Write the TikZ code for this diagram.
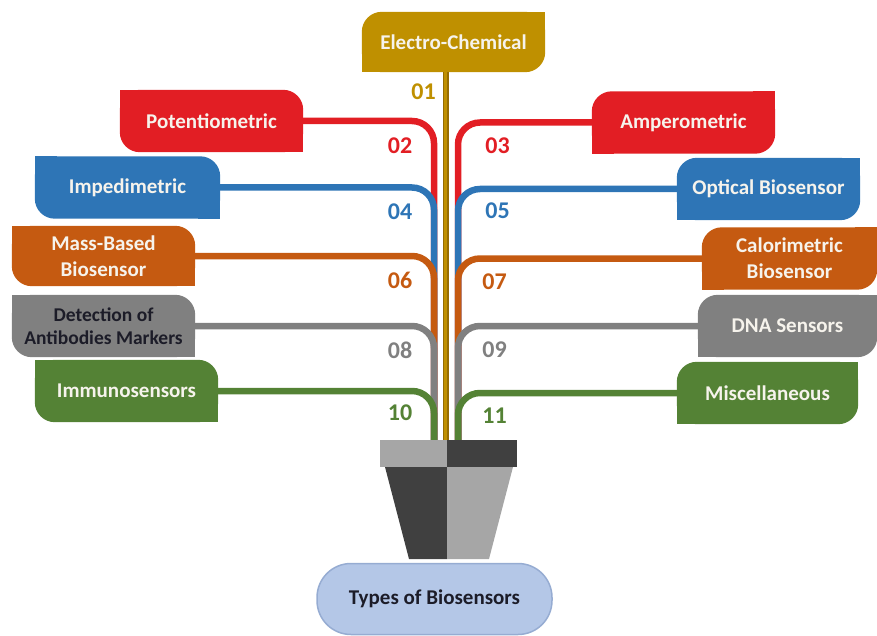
\documentclass[tikz,border=0pt]{standalone}
\usepackage{fontspec}
\setmainfont{Carlito}
\usetikzlibrary{backgrounds}

\definecolor{cRed}{RGB}{226,30,36}
\definecolor{cBlue}{RGB}{46,117,182}
\definecolor{cOrange}{RGB}{197,90,17}
\definecolor{cGray}{RGB}{128,128,128}
\definecolor{cGreen}{RGB}{84,130,53}
\definecolor{cGold}{RGB}{191,144,0}
\definecolor{cGoldDark}{RGB}{150,108,0}
\definecolor{potLight}{RGB}{166,166,166}
\definecolor{potDark}{RGB}{64,64,64}
\definecolor{pillFill}{RGB}{180,199,231}
\definecolor{pillEdge}{RGB}{150,172,210}
\definecolor{boxText}{RGB}{246,243,236}
\definecolor{darkText}{RGB}{28,28,40}

% leaf box, rounded top-right and bottom-left
\newcommand{\leafLeft}[2]{%
  \fill[#2, rounded corners=20] (#1.north west) rectangle (#1.south east);
  \fill[#2] (#1.north west) rectangle ++(22,22);
  \fill[#2] (#1.south east) rectangle ++(-22,-22);}
% leaf box, rounded top-left and bottom-right
\newcommand{\leafRight}[2]{%
  \fill[#2, rounded corners=20] (#1.north west) rectangle (#1.south east);
  \fill[#2] (#1.north east) rectangle ++(-22,22);
  \fill[#2] (#1.south west) rectangle ++(22,-22);}

\begin{document}
\begin{tikzpicture}[x=1pt, y=-1pt,
  lbl/.style={inner sep=0pt, font=\fontsize{21}{26}\selectfont\bfseries,
    text=boxText, align=center, minimum height=62},
  num/.style={inner sep=0pt, font=\fontsize{24}{26}\selectfont\bfseries},
  conn/.style={line width=6.5, rounded corners=22}]
\useasboundingbox (0,0) rectangle (877,636);

% category boxes
\node[lbl, minimum width=183, minimum height=60] (elec) at (453.5,42) {Electro-Chemical};
\node[lbl, minimum width=183] (pot)  at (211.5,121) {Potentiometric};
\node[lbl, minimum width=183] (amp)  at (683.5,122.5) {Amperometric};
\node[lbl, minimum width=185] (imp)  at (127.5,187.5) {Impedimetric};
\node[lbl, minimum width=183] (opt)  at (768.5,189) {Optical Biosensor};
\node[lbl, minimum width=183, minimum height=60] (mass) at (103.5,256) {Mass-Based\\Biosensor};
\node[lbl, minimum width=175] (cal)  at (789.5,258.5) {Calorimetric\\Biosensor};
\node[lbl, minimum width=183, text=darkText, font=\fontsize{19.5}{23}\selectfont\bfseries] (det) at (103.5,326) {Detection of\\Antibodies Markers};
\node[lbl, minimum width=179] (dna)  at (787.5,326) {DNA Sensors};
\node[lbl, minimum width=183] (imm)  at (126.5,391) {Immunosensors};
\node[lbl, minimum width=181] (misc) at (767.5,393) {Miscellaneous};

% numbers
\node[num, text=cGold]   (n01) at (423.5,92)  {01};
\node[num, text=cRed]    (n02) at (400,146)   {02};
\node[num, text=cRed]    (n03) at (497.5,145.5) {03};
\node[num, text=cBlue]   (n04) at (400,211.5) {04};
\node[num, text=cBlue]   (n05) at (497.5,210.5) {05};
\node[num, text=cOrange] (n06) at (400,280)   {06};
\node[num, text=cOrange] (n07) at (494.5,281.5) {07};
\node[num, text=cGray]   (n08) at (400,350)   {08};
\node[num, text=cGray]   (n09) at (494.5,350) {09};
\node[num, text=cGreen]  (n10) at (400,412.5) {10};
\node[num, text=cGreen]  (n11) at (494.5,415.5) {11};

% stem ends on the pot rim
\coordinate (baseL) at (434,440);
\coordinate (baseC) at (445.5,440);
\coordinate (baseR) at (458,440);

% root label
\node[fill=pillFill, draw=pillEdge, line width=1.5, rounded corners=34,
  minimum width=235, minimum height=71, inner sep=0pt,
  font=\fontsize{21}{24}\selectfont\bfseries, text=darkText] (types) at (434.5,599) {Types of Biosensors};

\begin{scope}[on background layer]
  \leafRight{elec}{cGold}
  \leafLeft{pot}{cRed}
  \leafRight{amp}{cRed}
  \leafLeft{imp}{cBlue}
  \leafRight{opt}{cBlue}
  \leafLeft{mass}{cOrange}
  \leafRight{cal}{cOrange}
  \leafLeft{det}{cGray}
  \leafRight{dna}{cGray}
  \leafLeft{imm}{cGreen}
  \leafRight{misc}{cGreen}

  % stems
  \draw[line width=6, cGoldDark] (elec.south -| baseC) -- (baseC);
  \draw[line width=3.6, cGold] (elec.south -| baseC) -- (baseC);
  \draw[conn, cRed]    (pot.east)  -| (baseL);
  \draw[conn, cRed]    (amp.west)  -| (baseR);
  \draw[conn, cBlue]   (imp.east)  -| (baseL);
  \draw[conn, cBlue]   (opt.west)  -| (baseR);
  \draw[conn, cOrange] (mass.east) -| (baseL);
  \draw[conn, cOrange] (cal.west)  -| (baseR);
  \draw[conn, cGray]   (det.east)  -| (baseL);
  \draw[conn, cGray]   (dna.west)  -| (baseR);
  \draw[conn, cGreen]  (imm.east)  -| (baseL);
  \draw[conn, cGreen]  (misc.west) -| (baseR);
\end{scope}

% flower pot
\fill[potLight] (380,440) rectangle (447,467);
\fill[potDark]  (447,440) rectangle (517,467);
\fill[potDark]  (385,467) -- (447,467) -- (447,559) -- (409,559) -- cycle;
\fill[potLight] (447,467) -- (513,467) -- (489,559) -- (447,559) -- cycle;
\end{tikzpicture}
\end{document}
